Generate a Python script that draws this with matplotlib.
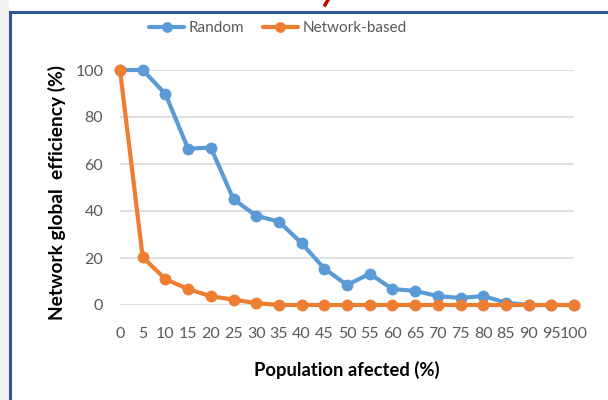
import matplotlib
matplotlib.use("Agg")
import matplotlib.pyplot as plt
from matplotlib.lines import Line2D
from matplotlib.patches import Rectangle

population = [0, 5, 10, 15, 20, 25, 30, 35, 40, 45, 50, 55, 60, 65, 70, 75, 80, 85, 90, 95, 100]
random_eff = [100, 100, 89.8, 66.5, 67, 45, 38, 35.5, 26.3, 15.5, 8.5, 13.3, 6.8, 6, 3.8, 3, 3.8, 1, 0, 0, 0]
network_eff = [100, 20.3, 11, 6.8, 3.7, 2.3, 0.8, 0, 0, 0, 0, 0, 0, 0, 0, 0, 0, 0, 0, 0, 0]
series_names = ["Random", "Network-based"]
yticks = [0, 20, 40, 60, 80, 100]

plt.rcParams['font.family'] = ['Lato', 'DejaVu Sans']

W, H = 608, 400
fig = plt.figure(figsize=(W / 100, H / 100), dpi=100)
fig.patch.set_facecolor('white')

# background decorations (gray strip, blue frame)
fig.patches.append(Rectangle((0, 0), 9 / W, 1, transform=fig.transFigure,
                             facecolor='#F2F2F2', edgecolor='none', zorder=0))
fig.lines.append(Line2D([10 / W, 10 / W], [0, 1 - 12 / H], transform=fig.transFigure,
                        color='#2F5597', lw=2.2))
fig.lines.append(Line2D([10 / W, 1], [1 - 12 / H, 1 - 12 / H], transform=fig.transFigure,
                        color='#2F5597', lw=2.2))
fig.lines.append(Line2D([328 / W, 325 / W], [1, 1 - 5 / H], transform=fig.transFigure,
                        color='#C00000', lw=2.5))

left, right = 120, 574
top, bottom = 70, 305
ax = fig.add_axes([left / W, 1 - bottom / H, (right - left) / W, (bottom - top) / H])
ax.set_facecolor('none')

ax.plot(population, random_eff, color='#5B9BD5', lw=3.0, marker='o', ms=7.5,
        clip_on=False, zorder=3, label=series_names[0], solid_capstyle='round')
ax.plot(population, network_eff, color='#ED7D31', lw=3.0, marker='o', ms=7.5,
        clip_on=False, zorder=4, label=series_names[1], solid_capstyle='round')

ax.set_xlim(0, 100)
ax.set_ylim(0, 100)
ax.set_xticks(population)
ax.set_xticklabels([str(p) for p in population])
ax.set_yticks(yticks)
ax.set_yticklabels([str(t) for t in yticks])
ax.grid(axis='y', color='#D9D9D9', lw=1.2)
ax.set_axisbelow(True)
for s in ax.spines.values():
    s.set_visible(False)
ax.tick_params(axis='both', length=0, labelsize=11.5, labelcolor='#595959')
ax.tick_params(axis='x', pad=16)
ax.tick_params(axis='y', pad=12)

ax.set_xlabel('Population afected (%)', fontsize=13.2, fontweight='bold', color='black', labelpad=14)
fig.text(57 / W, 1 - 192 / H, 'Network global  efficiency (%)', rotation=90, fontsize=13.8,
         fontweight='bold', color='black', ha='center', va='center')

ax.legend(loc='center', bbox_to_anchor=((278 - left) / (right - left), 1 + (70 - 28) / (bottom - top)),
          ncol=2, frameon=False, fontsize=11, labelcolor='#595959', handlelength=2.3,
          columnspacing=1.2, handletextpad=0.3, markerscale=0.9)

fig.savefig('out.png', dpi=100)
